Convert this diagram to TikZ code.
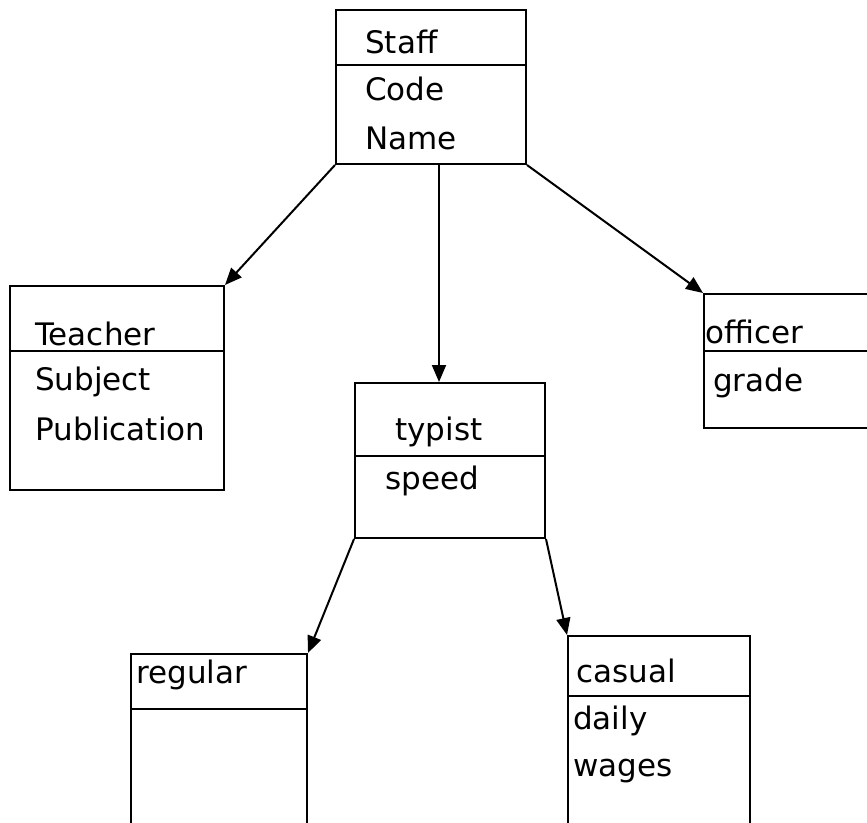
\documentclass[tikz,border=0pt]{standalone}
\usepackage{fontspec}
\setmainfont{DejaVu Sans}
\usetikzlibrary{arrows.meta}

\begin{document}
\begin{tikzpicture}[x=1pt,y=-1pt,
    box/.style={draw=black, line width=2pt, fill=white, anchor=north west, inner sep=0pt},
    rule/.style={draw=black, line width=2pt},
    lbl/.style={anchor=base west, inner sep=0pt, font=\fontsize{31}{31}\selectfont},
    arr/.style={draw=black, line width=2pt, -{Triangle[length=17pt,width=14pt]}}]
  \useasboundingbox (0,0) rectangle (867,822);
  \fill[white] (0,0) rectangle (867,822);
  \clip (0,0) rectangle (867,822);

  % class boxes
  \node[box, minimum width=190pt, minimum height=154pt] (staff)   at (335,9)   {};
  \node[box, minimum width=214pt, minimum height=204pt] (teacher) at (9,285)   {};
  \node[box, minimum width=190pt, minimum height=155pt] (typist)  at (354,382) {};
  \node[box, minimum width=220pt, minimum height=134pt] (officer) at (703,293) {};
  \node[box, minimum width=176pt, minimum height=250pt] (regular) at (130,653) {};
  \node[box, minimum width=182pt, minimum height=250pt] (casual)  at (567,635) {};

  % dividers between name and attributes
  \draw[rule] (staff.west |- 0,65)   -- (staff.east |- 0,65);
  \draw[rule] (teacher.west |- 0,351) -- (teacher.east |- 0,351);
  \draw[rule] (typist.west |- 0,456)  -- (typist.east |- 0,456);
  \draw[rule] (officer.west |- 0,351) -- (officer.east |- 0,351);
  \draw[rule] (regular.west |- 0,709) -- (regular.east |- 0,709);
  \draw[rule] (casual.west |- 0,696)  -- (casual.east |- 0,696);

  % texts
  \node[lbl] (tStaff) at (365,53)  {Staff};
  \node[lbl] (tCode)  at (365,100) {Code};
  \node[lbl] (tName)  at (365,149) {Name};

  \node[lbl] (tTeacher) at (35,345) {Teacher};
  \node[lbl] (tSubject) at (35,390) {Subject};
  \node[lbl] (tPub)     at (35,440) {Publication};

  \node[lbl] (tTypist) at (395,440) {typist};
  \node[lbl] (tSpeed)  at (385,489) {speed};

  \node[lbl] (tOfficer) at (705,343) {officer};
  \node[lbl] (tGrade)   at (713,391) {grade};

  \node[lbl] (tRegular) at (136,683) {regular};

  \node[lbl] (tCasual) at (576,682) {casual};
  \node[lbl] (tDaily)  at (573,729) {daily};
  \node[lbl] (tWages)  at (573,776) {wages};

  % inheritance connectors
  \draw[arr] (staff.south west) -- (teacher.north east);
  \draw[arr] ([xshift=-11pt]typist.north |- staff.south) -- ([xshift=-11pt]typist.north);
  \draw[arr] (staff.south east) -- (officer.north west);
  \draw[arr] (typist.south west) -- (regular.north east);
  \draw[arr] (typist.south east) -- (casual.north west);
\end{tikzpicture}
\end{document}
